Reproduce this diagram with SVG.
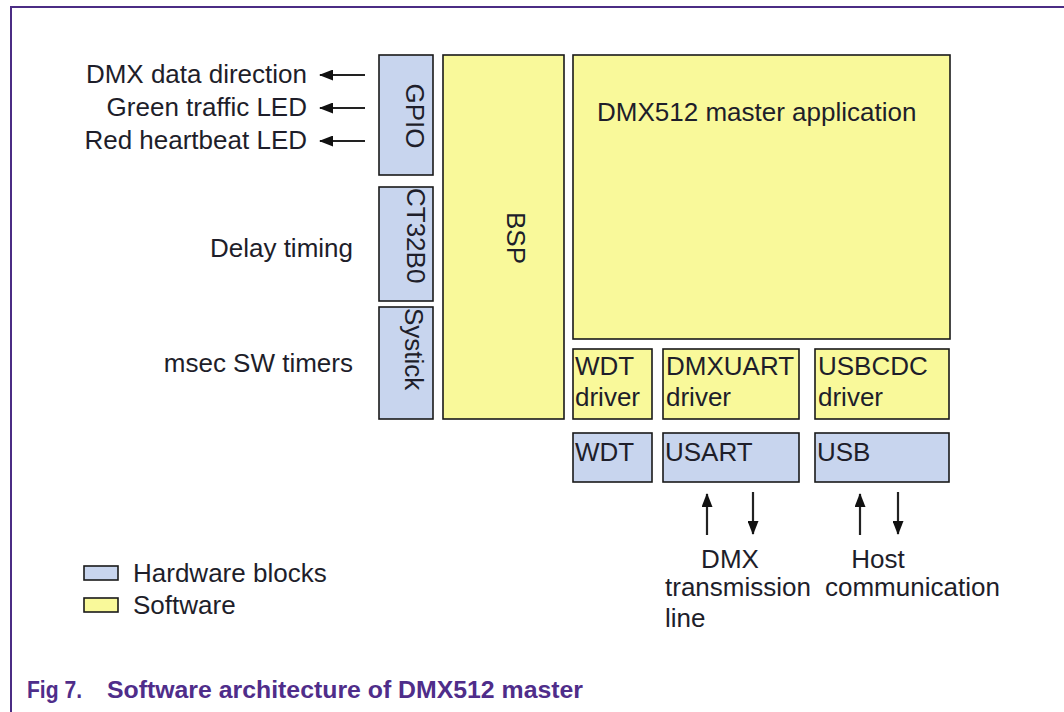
<svg xmlns="http://www.w3.org/2000/svg" width="1064" height="712" viewBox="0 0 1064 712">
<style>
.t{font-family:"Liberation Sans",Arial,sans-serif;font-size:26px;fill:#1e1e2a}
.hw{fill:#C8D5EE;stroke:#1a1a1a;stroke-width:1.6}
.sw{fill:#F9F99A;stroke:#1a1a1a;stroke-width:1.6}
.frame{stroke:#4B2C84;stroke-width:2;fill:none}
.cap{font-family:"Liberation Sans",Arial,sans-serif;font-size:23px;font-weight:bold;fill:#4F2D8A}
.ar{stroke:#222;stroke-width:2.2;fill:none}
</style>
<defs>
<marker id="ah" viewBox="0 0 14 11" refX="13" refY="5.5" markerWidth="14" markerHeight="11" markerUnits="userSpaceOnUse" orient="auto">
<path d="M0,0 L14,5.5 L0,11 Z" fill="#111"/>
</marker>
</defs>
<rect width="1064" height="712" fill="#fff"/>
<path class="frame" d="M11,712 V7 H1064"/>

<g id="gpio"><rect class="hw" x="379" y="55" width="54" height="120"/><text class="t" text-anchor="middle" transform="translate(406,116) rotate(90)">GPIO</text></g>
<g id="ct32b0"><rect class="hw" x="379" y="187" width="54" height="114"/><text class="t" transform="translate(407,188) rotate(90)">CT32B0</text></g>
<g id="systick"><rect class="hw" x="379" y="307" width="54" height="112"/><text class="t" transform="translate(405,308) rotate(90)">Systick</text></g>
<g id="bsp"><rect class="sw" x="443" y="55" width="121" height="364"/><text class="t" transform="translate(507,212) rotate(90)">BSP</text></g>
<g id="app"><rect class="sw" x="573" y="55" width="377" height="284"/><text class="t" x="597" y="121">DMX512 master application</text></g>
<g id="wdt-driver"><rect class="sw" x="573" y="349" width="79" height="70"/><text class="t" x="575" y="375">WDT</text><text class="t" x="575" y="406">driver</text></g>
<g id="dmxuart-driver"><rect class="sw" x="663" y="349" width="136" height="70"/><text class="t" x="666" y="375">DMXUART</text><text class="t" x="666" y="406">driver</text></g>
<g id="usbcdc-driver"><rect class="sw" x="815" y="349" width="134" height="70"/><text class="t" x="818" y="375">USBCDC</text><text class="t" x="818" y="406">driver</text></g>
<g id="wdt"><rect class="hw" x="573" y="433" width="79" height="49"/><text class="t" x="575" y="461">WDT</text></g>
<g id="usart"><rect class="hw" x="663" y="433" width="136" height="49"/><text class="t" x="665" y="461">USART</text></g>
<g id="usb"><rect class="hw" x="815" y="433" width="134" height="49"/><text class="t" x="817" y="461">USB</text></g>

<g id="labels">
<text class="t" text-anchor="end" x="307" y="83">DMX data direction</text>
<text class="t" text-anchor="end" x="307" y="116">Green traffic LED</text>
<text class="t" text-anchor="end" x="307" y="149">Red heartbeat LED</text>
<text class="t" text-anchor="end" x="353" y="257">Delay timing</text>
<text class="t" text-anchor="end" x="353" y="372">msec SW timers</text>
<text class="t" text-anchor="middle" x="730" y="568">DMX</text>
<text class="t" x="665" y="596">transmission</text>
<text class="t" x="665" y="627">line</text>
<text class="t" text-anchor="middle" x="878" y="568">Host</text>
<text class="t" x="825" y="596">communication</text>
</g>

<g id="connectors">
<line class="ar" x1="365" y1="75" x2="320" y2="75" marker-end="url(#ah)"/>
<line class="ar" x1="365" y1="108" x2="320" y2="108" marker-end="url(#ah)"/>
<line class="ar" x1="365" y1="141" x2="320" y2="141" marker-end="url(#ah)"/>
<line class="ar" x1="707" y1="535" x2="707" y2="494" marker-end="url(#ah)"/>
<line class="ar" x1="753" y1="492" x2="753" y2="534" marker-end="url(#ah)"/>
<line class="ar" x1="860" y1="535" x2="860" y2="494" marker-end="url(#ah)"/>
<line class="ar" x1="898" y1="492" x2="898" y2="534" marker-end="url(#ah)"/>
</g>

<g id="legend">
<rect class="hw" x="84" y="566" width="34" height="14"/>
<text class="t" x="133" y="582">Hardware blocks</text>
<rect class="sw" x="84" y="598" width="34" height="14"/>
<text class="t" x="133" y="614">Software</text>
</g>

<g id="caption">
<text class="cap" x="27" y="698" textLength="55" lengthAdjust="spacingAndGlyphs">Fig 7.</text>
<text class="cap" x="107" y="698" textLength="476" lengthAdjust="spacingAndGlyphs">Software architecture of DMX512 master</text>
</g>
</svg>
